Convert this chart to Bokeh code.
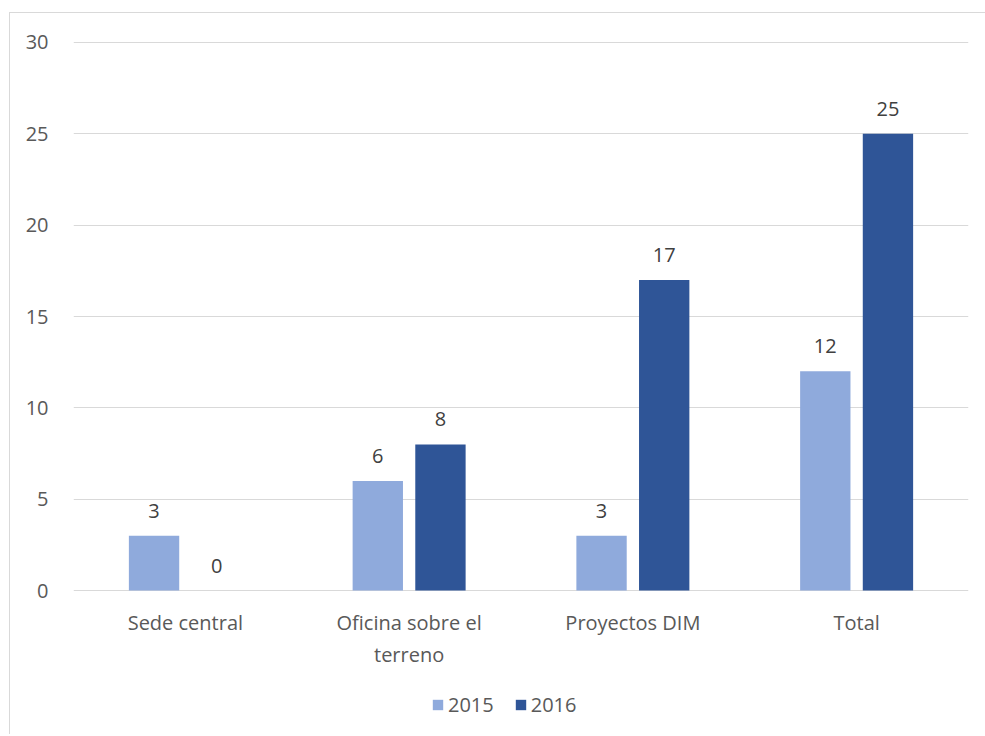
from bokeh.plotting import figure
from bokeh.layouts import column
from bokeh.models import (FactorRange, Range1d, ColumnDataSource, Legend, LegendItem,
                          FixedTicker)
from bokeh.transform import dodge
from bokeh.core.properties import value
from bokeh.embed import file_html
from bokeh.resources import INLINE

categories = ["Sede central", "Oficina sobre el\nterreno", "Proyectos DIM", "Total"]
values_2015 = [3, 6, 3, 12]
values_2016 = [0, 8, 17, 25]
series_names = ["2015", "2016"]
y_ticks = [0, 5, 10, 15, 20, 25, 30]

FONT = "Open Sans"
C2015 = "#8FAADC"
C2016 = "#2F5597"
TXT = "#595959"
FS = "20px"

src = ColumnDataSource(dict(
    cat=categories,
    y2015=values_2015,
    y2016=values_2016,
    l2015=[str(v) for v in values_2015],
    l2016=[str(v) for v in values_2016],
))

# main chart: sits inside a bordered container that starts at (10, 13)
p = figure(width=975, height=667, x_range=FactorRange(*categories, range_padding=0),
           y_range=Range1d(-0.05, 30.05), output_backend="svg", toolbar_location=None,
           min_border_left=63, min_border_right=17, min_border_top=28, min_border_bottom=89)
p.outline_line_color = None

r1 = p.vbar(x=dodge("cat", -0.14, range=p.x_range), top="y2015", width=0.225, source=src,
            fill_color=C2015, line_color=None)
r2 = p.vbar(x=dodge("cat", 0.14, range=p.x_range), top="y2016", width=0.225, source=src,
            fill_color=C2016, line_color=None)

for key, off in (("2015", -0.14), ("2016", 0.14)):
    p.text(x=dodge("cat", off, range=p.x_range), y="y" + key, text="l" + key, source=src,
           text_align="center", text_baseline="middle", y_offset=-25,
           text_font=value(FONT), text_font_size=FS, text_color="#404040")

p.yaxis.ticker = FixedTicker(ticks=y_ticks)
for ax in (p.xaxis, p.yaxis):
    ax.axis_line_color = None
    ax.major_tick_line_color = None
    ax.minor_tick_line_color = None
    ax.major_label_text_font = FONT
    ax.major_label_text_font_size = FS
    ax.major_label_text_color = TXT
p.yaxis.major_label_standoff = 19
p.xaxis.major_label_standoff = 11

p.xgrid.grid_line_color = None
p.ygrid.grid_line_color = "#D9D9D9"
p.ygrid.grid_line_width = 1

# legend strip below the chart
pl = figure(width=975, height=54, x_range=Range1d(0, 1), y_range=Range1d(0, 1),
            output_backend="svg", toolbar_location=None,
            min_border_left=0, min_border_right=0, min_border_top=0, min_border_bottom=0)
pl.outline_line_color = None
pl.axis.visible = False
pl.grid.grid_line_color = None
# zero-height placeholder bars, only to carry the legend swatches
lsrc = ColumnDataSource(dict(x=[0.5], top=[0.0]))
lr1 = pl.vbar(x="x", top="top", width=0.0, source=lsrc, fill_color=C2015, line_color=None)
lr2 = pl.vbar(x="x", top="top", width=0.0, source=lsrc, fill_color=C2016, line_color=None)
legend = Legend(items=[LegendItem(label=series_names[0], renderers=[lr1]),
                       LegendItem(label=series_names[1], renderers=[lr2])],
                orientation="horizontal", location=(358, 16),
                glyph_width=13, glyph_height=13, label_standoff=4, spacing=20,
                padding=4, margin=0, border_line_color=None, background_fill_alpha=0,
                label_text_font=FONT, label_text_font_size=FS, label_text_color=TXT,
                label_text_baseline="middle")
pl.add_layout(legend, "center")

layout = column(p, pl, spacing=0, margin=(12, 0, 0, 9),
                styles={"border-top": "1px solid #D9D9D9", "border-left": "1px solid #D9D9D9"})

open("out.html", "w").write(file_html(layout, INLINE))
